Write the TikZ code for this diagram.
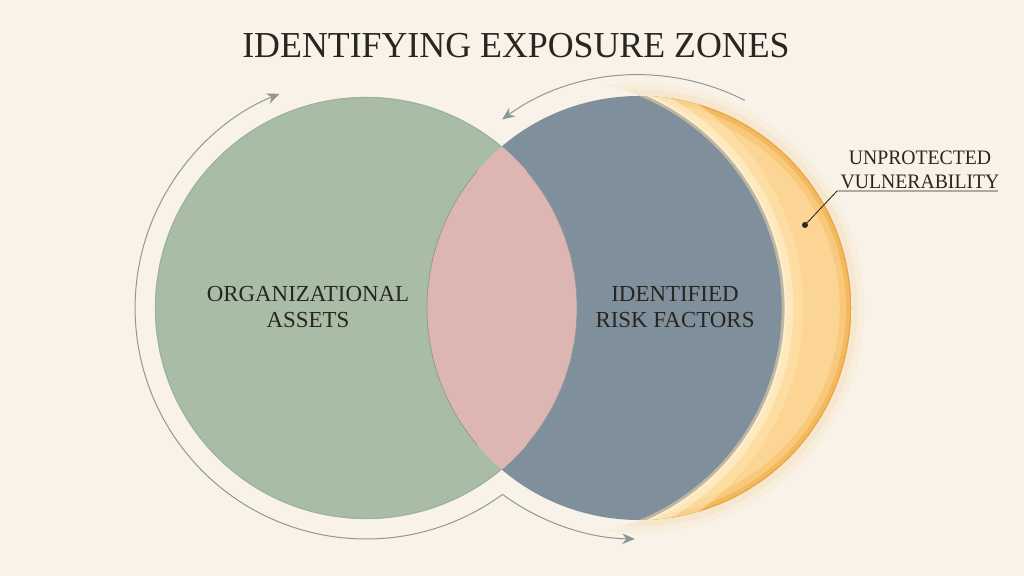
\documentclass[tikz,border=0pt]{standalone}
\usepackage{fontspec}
\setmainfont{Liberation Serif}
\newfontfamily\titlefont[FakeStretch=0.98]{Liberation Serif}
\newfontfamily\notefont[FakeStretch=0.96]{Liberation Serif}
\usetikzlibrary{arrows.meta}

\definecolor{paper}{HTML}{F8F2E8}
\definecolor{assetgreen}{HTML}{A9BDA6}
\definecolor{assetedge}{HTML}{9DB29A}
\definecolor{overlappink}{HTML}{DDB6B3}
\definecolor{riskblue}{HTML}{7F8F9C}
\definecolor{gloworange}{HTML}{F2AE48}
\definecolor{glowyellow}{HTML}{FCD594}
\definecolor{glowlight}{HTML}{FEE3AC}
\definecolor{glowwhite}{HTML}{FFF0D0}
\definecolor{arrowgray}{HTML}{8C9895}
\definecolor{inkdark}{HTML}{28261F}

\begin{document}
\begin{tikzpicture}[x=0.025cm,y=0.025cm,
		title_style/.style={font=\titlefont\fontsize{26}{29}\selectfont,text=inkdark},
		label_style/.style={font=\fontsize{16.3}{18}\selectfont,text=inkdark,align=center},
		note_style/.style={font=\notefont\fontsize{14.6}{17}\selectfont,text=inkdark,align=center},
		arrow_style/.style={draw=arrowgray,line width=0.7pt,-{Stealth[length=9pt,width=7.5pt]}}]

		\useasboundingbox[fill=paper] (0,0) rectangle (1024,576);

		\coordinate (gc) at (366,268);
		\coordinate (bc) at (639,268);
		\coordinate (ic) at (553,268);

		% halo outside the crescent
		\begin{scope}[even odd rule]
			\clip (0,0) rectangle (1024,576) (ic) circle[radius=229];
			\draw[gloworange,opacity=0.06,line width=16pt] (bc) circle[radius=214];
			\draw[gloworange,opacity=0.10,line width=8pt] (bc) circle[radius=213];
		\end{scope}

		% risk circle with its crescent
		\fill[riskblue] (bc) circle[radius=212];
		\begin{scope}[even odd rule]
			\clip (bc) circle[radius=212];
			\clip (bc) circle[radius=215] (ic) circle[radius=229];
			\fill[glowyellow] (bc) circle[radius=212];
			\draw[gloworange,opacity=0.3,line width=16pt] (bc) circle[radius=212];
			\draw[gloworange,opacity=0.6,line width=7pt] (bc) circle[radius=212];
			\draw[gloworange!85!brown,line width=1.5pt] (bc) circle[radius=212];
			\draw[glowlight,opacity=0.6,line width=30pt] (ic) circle[radius=229];
			\draw[glowwhite,opacity=0.6,line width=16pt] (ic) circle[radius=229];
			\draw[glowwhite,opacity=0.8,line width=7pt] (ic) circle[radius=229];
		\end{scope}
		\begin{scope}
			\clip (bc) circle[radius=212];
			\draw[riskblue,opacity=0.5,line width=3pt] (ic) circle[radius=229.5];
			\draw[gloworange!60!riskblue,opacity=0.35,line width=1.2pt] (ic) circle[radius=230];
		\end{scope}

		% assets circle and overlap
		\fill[assetgreen] (gc) circle[radius=211];
		\draw[assetedge,line width=0.8pt] (gc) circle[radius=210.5];
		\begin{scope}
			\clip (gc) circle[radius=211];
			\fill[overlappink] (bc) circle[radius=212];
		\end{scope}
		\draw[arrowgray,line width=0.5pt] (gc) ++(40.2:211) arc[start angle=40.2, end angle=-40.2, radius=211];
		\draw[arrowgray,line width=0.5pt] (bc) ++(139.8:212) arc[start angle=139.8, end angle=220.2, radius=212];

		% cycle arrows
		\coordinate (cusp) at (502.5,81.6);
		\draw[arrow_style] (cusp) arc[start angle=-53.8, end angle=-248, radius=231];
		\draw[arrow_style] (cusp) arc[start angle=-126.2, end angle=-91, radius=231];
		\draw[arrow_style] (bc) ++(63:233) arc[start angle=63, end angle=126, radius=233];

		% labels
		\node[title_style] (title) at (516,530) {IDENTIFYING EXPOSURE ZONES};
		\node[label_style] (assets) at (308,269) {ORGANIZATIONAL\\ASSETS};
		\node[label_style] (risks) at (675,269) {IDENTIFIED\\RISK FACTORS};
		\node[note_style] (gap) at (920,406) {UNPROTECTED\\VULNERABILITY};

		\coordinate (elbow) at (837,385);
		\coordinate (lineend) at (998,385);
		\fill[inkdark] (805,351) circle[radius=3] coordinate (dot);
		\draw[inkdark,line width=0.6pt] (dot) -- (elbow) -- (lineend);
\end{tikzpicture}
\end{document}
